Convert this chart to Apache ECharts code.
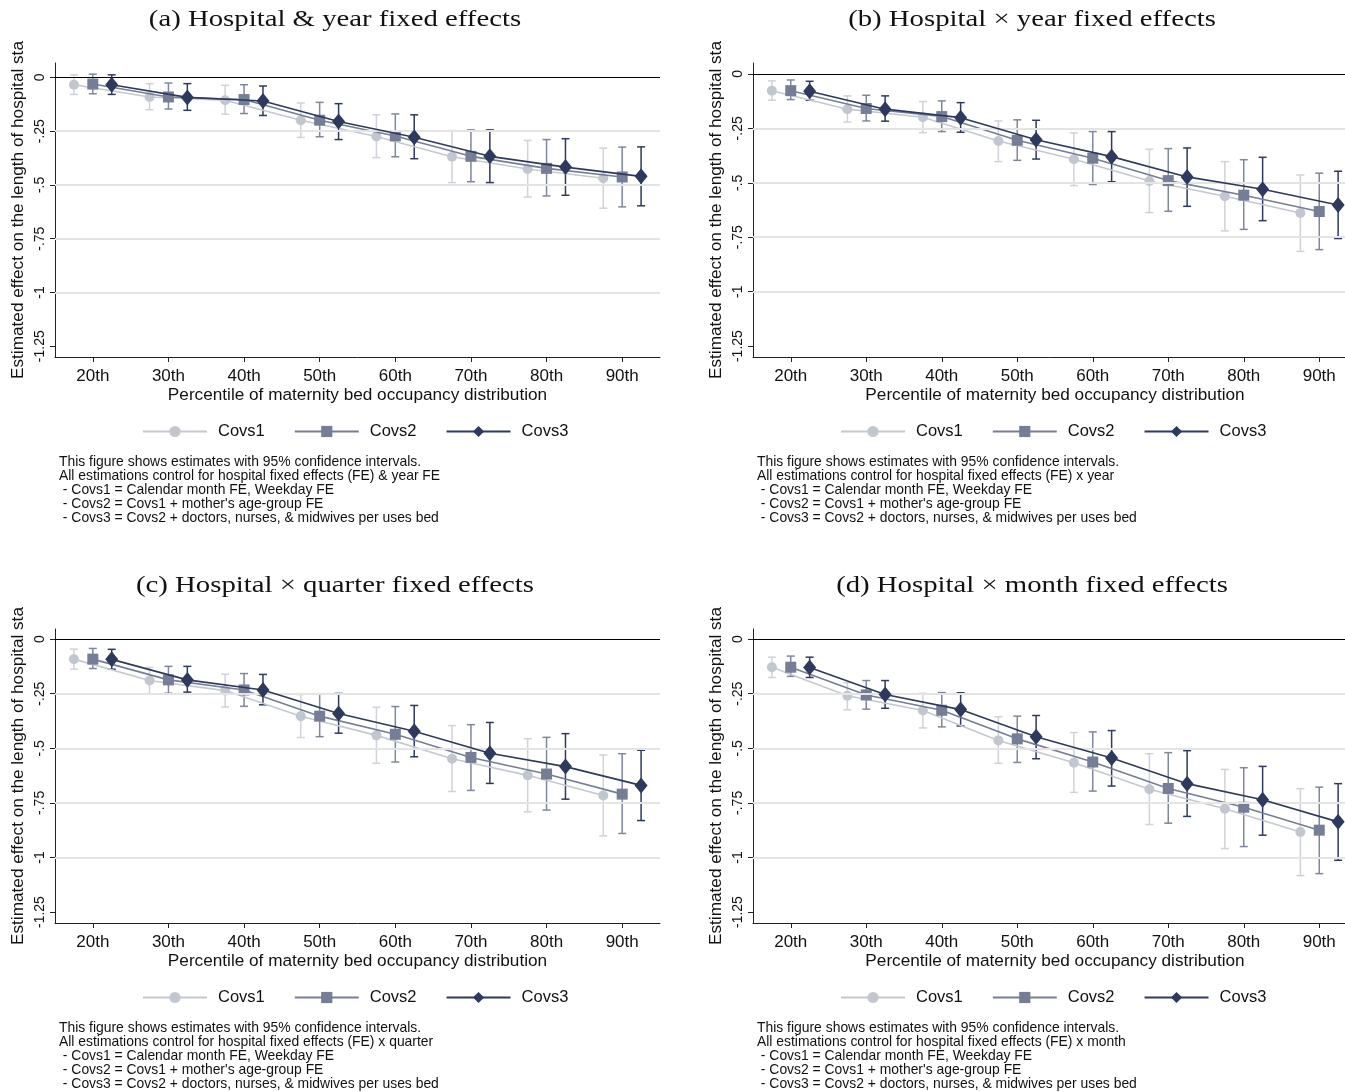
<!DOCTYPE html>
<html>
<head>
<meta charset="utf-8">
<script src="https://cdn.jsdelivr.net/npm/echarts@6/dist/echarts.min.js"></script>
<style>html,body{margin:0;padding:0;background:#fff}#c{width:1345px;height:1092px}</style>
</head>
<body>
<div id="c"></div>
<script>
// ---------- data ----------
const seriesNames = ['Covs1', 'Covs2', 'Covs3'];
const percentiles = [20, 30, 40, 50, 60, 70, 80, 90];
const xTickLabels = ['20th', '30th', '40th', '50th', '60th', '70th', '80th', '90th'];
const yTickValues = [0, -0.25, -0.5, -0.75, -1, -1.25];
const yTickLabels = ['0', '-.25', '-.5', '-.75', '-1', '-1.25'];
const gridValues = [-0.25, -0.5, -0.75, -1];

const panelTitles = ['(a) Hospital & year fixed effects', '(b) Hospital \u00d7 year fixed effects',
                     '(c) Hospital \u00d7 quarter fixed effects', '(d) Hospital \u00d7 month fixed effects'];
const yTitle = 'Estimated effect on the length of hospital sta';
const xTitle = 'Percentile of maternity bed occupancy distribution';
const notesA = ['This figure shows estimates with 95% confidence intervals.',
  'All estimations control for hospital fixed effects (FE) & year FE',
  ' - Covs1 = Calendar month FE, Weekday FE',
  ' - Covs2 = Covs1 + mother\'s age-group FE',
  ' - Covs3 = Covs2 + doctors, nurses, & midwives per uses bed'];
const notesB = ['This figure shows estimates with 95% confidence intervals.',
  'All estimations control for hospital fixed effects (FE) x year',
  ' - Covs1 = Calendar month FE, Weekday FE',
  ' - Covs2 = Covs1 + mother\'s age-group FE',
  ' - Covs3 = Covs2 + doctors, nurses, & midwives per uses bed'];
const notesC = ['This figure shows estimates with 95% confidence intervals.',
  'All estimations control for hospital fixed effects (FE) x quarter',
  ' - Covs1 = Calendar month FE, Weekday FE',
  ' - Covs2 = Covs1 + mother\'s age-group FE',
  ' - Covs3 = Covs2 + doctors, nurses, & midwives per uses bed'];
const notesD = ['This figure shows estimates with 95% confidence intervals.',
  'All estimations control for hospital fixed effects (FE) x month',
  ' - Covs1 = Calendar month FE, Weekday FE',
  ' - Covs2 = Covs1 + mother\'s age-group FE',
  ' - Covs3 = Covs2 + doctors, nurses, & midwives per uses bed'];

// Panel (a)
const A1   = [-0.034, -0.091, -0.106, -0.199, -0.275, -0.369, -0.426, -0.469];
const A1lo = [-0.079, -0.150, -0.171, -0.279, -0.373, -0.489, -0.556, -0.608];
const A1hi = [ 0.012, -0.029, -0.037, -0.119, -0.174, -0.247, -0.293, -0.329];
const A2   = [-0.031, -0.091, -0.103, -0.199, -0.272, -0.367, -0.423, -0.463];
const A2lo = [-0.076, -0.147, -0.168, -0.276, -0.369, -0.485, -0.551, -0.602];
const A2hi = [ 0.015, -0.026, -0.034, -0.116, -0.170, -0.244, -0.289, -0.324];
const A3   = [-0.034, -0.093, -0.110, -0.205, -0.278, -0.367, -0.417, -0.460];
const A3lo = [-0.079, -0.153, -0.177, -0.289, -0.378, -0.489, -0.548, -0.597];
const A3hi = [ 0.012, -0.029, -0.040, -0.122, -0.174, -0.244, -0.285, -0.323];
// Panel (b)
const B1   = [-0.077, -0.162, -0.199, -0.308, -0.392, -0.492, -0.562, -0.639];
const B1lo = [-0.121, -0.221, -0.270, -0.403, -0.513, -0.637, -0.721, -0.815];
const B1hi = [-0.032, -0.101, -0.127, -0.216, -0.271, -0.346, -0.403, -0.464];
const B2   = [-0.077, -0.159, -0.196, -0.305, -0.387, -0.490, -0.557, -0.632];
const B2lo = [-0.118, -0.216, -0.265, -0.397, -0.508, -0.631, -0.714, -0.807];
const B2hi = [-0.028, -0.098, -0.124, -0.211, -0.265, -0.343, -0.394, -0.456];
const B3   = [-0.080, -0.162, -0.201, -0.302, -0.380, -0.473, -0.530, -0.602];
const B3lo = [-0.121, -0.217, -0.268, -0.391, -0.495, -0.608, -0.674, -0.756];
const B3hi = [-0.034, -0.101, -0.132, -0.213, -0.265, -0.340, -0.383, -0.447];
// Panel (c)
const C1   = [-0.092, -0.190, -0.236, -0.353, -0.441, -0.548, -0.624, -0.716];
const C1lo = [-0.138, -0.252, -0.311, -0.451, -0.569, -0.698, -0.791, -0.901];
const C1hi = [-0.046, -0.130, -0.161, -0.254, -0.312, -0.396, -0.456, -0.531];
const C2   = [-0.092, -0.187, -0.233, -0.353, -0.436, -0.542, -0.618, -0.710];
const C2lo = [-0.135, -0.248, -0.308, -0.447, -0.563, -0.693, -0.783, -0.890];
const C2hi = [-0.043, -0.125, -0.158, -0.252, -0.309, -0.392, -0.450, -0.525];
const C3   = [-0.093, -0.187, -0.233, -0.341, -0.422, -0.523, -0.584, -0.670];
const C3lo = [-0.138, -0.243, -0.301, -0.431, -0.539, -0.661, -0.733, -0.831];
const C3hi = [-0.047, -0.125, -0.162, -0.249, -0.304, -0.382, -0.433, -0.509];
// Panel (d)
const D1   = [-0.129, -0.260, -0.327, -0.464, -0.566, -0.688, -0.777, -0.883];
const D1lo = [-0.176, -0.324, -0.407, -0.569, -0.702, -0.849, -0.959, -1.083];
const D1hi = [-0.083, -0.200, -0.248, -0.356, -0.428, -0.525, -0.597, -0.685];
const D2   = [-0.129, -0.256, -0.326, -0.457, -0.563, -0.684, -0.770, -0.875];
const D2lo = [-0.171, -0.321, -0.402, -0.565, -0.696, -0.843, -0.950, -1.074];
const D2hi = [-0.078, -0.190, -0.245, -0.353, -0.425, -0.520, -0.589, -0.678];
const D3   = [-0.130, -0.254, -0.323, -0.447, -0.545, -0.662, -0.736, -0.837];
const D3lo = [-0.176, -0.317, -0.398, -0.548, -0.673, -0.812, -0.898, -1.013];
const D3hi = [-0.083, -0.190, -0.246, -0.350, -0.419, -0.511, -0.583, -0.662];

// ---------- layout / style ----------
const SANS = 'Liberation Sans';
const SERIF = 'Liberation Serif';
const offsets = [-2.5, 0, 2.5];
const styles = [
  { line: '#c4c8d1', marker: '#c2c6cf', bar: '#cfd2da', symbol: 'circle', size: 10 },
  { line: '#767e96', marker: '#767e96', bar: '#7f879d', symbol: 'rect', size: 11 },
  { line: '#2e3a5c', marker: '#2e3a5c', bar: '#2e3a5c', symbol: 'diamond', size: [13, 16] }
];
const panels = [
  { est: [A1, A2, A3], lo: [A1lo, A2lo, A3lo], hi: [A1hi, A2hi, A3hi], notes: notesA,
    grid: { left: 55, top: 63, width: 605, height: 294 }, ymax: 0.067 },
  { est: [B1, B2, B3], lo: [B1lo, B2lo, B3lo], hi: [B1hi, B2hi, B3hi], notes: notesB,
    grid: { left: 753, top: 63, width: 604, height: 294 }, ymax: 0.05 },
  { est: [C1, C2, C3], lo: [C1lo, C2lo, C3lo], hi: [C1hi, C2hi, C3hi], notes: notesC,
    grid: { left: 55, top: 629, width: 605, height: 294 }, ymax: 0.046 },
  { est: [D1, D2, D3], lo: [D1lo, D2lo, D3lo], hi: [D1hi, D2hi, D3hi], notes: notesD,
    grid: { left: 753, top: 629, width: 604, height: 294 }, ymax: 0.046 }
];

const grids = [], xAxes = [], yAxes = [], series = [], legends = [], graphics = [];

panels.forEach((p, pi) => {
  grids.push(Object.assign({ outerBoundsMode: 'none', containLabel: false }, p.grid));
  xAxes.push({
    type: 'value', gridIndex: pi, min: 15, max: 95,
    name: xTitle, nameLocation: 'middle', nameGap: 30,
    nameTextStyle: { fontFamily: SANS, fontSize: 17.2, color: '#111' },
    axisLine: { show: true, onZero: false, lineStyle: { color: '#222', width: 1 } },
    axisTick: { show: true, length: 5, customValues: percentiles, lineStyle: { color: '#222' } },
    axisLabel: { customValues: percentiles, margin: 11, fontFamily: SANS, fontSize: 17, color: '#111',
      formatter: v => xTickLabels[percentiles.indexOf(v)] },
    splitLine: { show: false }
  });
  yAxes.push({
    type: 'value', gridIndex: pi, min: -1.3, max: p.ymax,
    name: yTitle, nameLocation: 'middle', nameGap: 28,
    nameTextStyle: { fontFamily: SANS, fontSize: 17.2, color: '#111' },
    axisLine: { show: true, onZero: false, lineStyle: { color: '#222', width: 1 } },
    axisTick: { show: true, length: 5, customValues: yTickValues, lineStyle: { color: '#222' } },
    axisLabel: { customValues: yTickValues, rotate: 90, margin: 8, fontFamily: SANS, fontSize: 14, color: '#111',
      formatter: v => { const i = yTickValues.findIndex(t => Math.abs(t - v) < 1e-9); return i >= 0 ? yTickLabels[i] : ''; } },
    splitLine: { show: false }
  });

  for (let s = 0; s < 3; s++) {
    const st = styles[s];
    const barData = percentiles.map((x, i) => [x + offsets[s], p.lo[s][i], p.hi[s][i]]);
    const errSeries = {
      type: 'custom', name: seriesNames[s] + '_ci', xAxisIndex: pi, yAxisIndex: pi, z: 2,
      silent: true, data: barData, encode: { x: 0, y: [1, 2] },
      renderItem: (params, api) => {
        const x = api.value(0);
        const top = api.coord([x, api.value(2)]);
        const bot = api.coord([x, api.value(1)]);
        const w = 4;
        const ls = { stroke: st.bar, lineWidth: 1.5 };
        return { type: 'group', children: [
          { type: 'line', shape: { x1: top[0], y1: top[1], x2: bot[0], y2: bot[1] }, style: ls },
          { type: 'line', shape: { x1: top[0] - w, y1: top[1], x2: top[0] + w, y2: top[1] }, style: ls },
          { type: 'line', shape: { x1: bot[0] - w, y1: bot[1], x2: bot[0] + w, y2: bot[1] }, style: ls }
        ] };
      }
    };
    if (s === 0) {
      errSeries.markLine = {
        silent: true, symbol: 'none', animation: false, label: { show: false },
        data: gridValues.map(v => ({ yAxis: v, lineStyle: { color: '#e4e4e4', width: 2, type: 'solid' } }))
          .concat([{ yAxis: 0, lineStyle: { color: '#000', width: 1.2, type: 'solid' } }])
      };
    }
    series.push(errSeries);
    series.push({
      type: 'line', name: seriesNames[s], xAxisIndex: pi, yAxisIndex: pi, z: 3 + s,
      data: percentiles.map((x, i) => [x + offsets[s], p.est[s][i]]),
      symbol: st.symbol, symbolSize: st.size, showSymbol: true,
      lineStyle: { color: st.line, width: 1.6 },
      itemStyle: { color: st.marker, borderWidth: 0 }
    });
  }

  const cx = p.grid.left;
  legends.push({
    data: seriesNames, left: cx + 82, top: p.grid.top + 355, orient: 'horizontal',
    itemWidth: 64, itemHeight: 14, itemGap: 29, selectedMode: false,
    textStyle: { fontFamily: SANS, fontSize: 16.5, color: '#111', padding: [0, 0, 0, 6] }
  });

  graphics.push({
    type: 'text', left: cx + 4, top: p.grid.top + 392,
    style: { text: p.notes.join('\n'), fontFamily: SANS, fontSize: 13.9, lineHeight: 14, fill: '#111' }
  });
});

const titlePos = [[335, 20], [1032, 20], [335, 586], [1032, 586]];
panelTitles.forEach((t, i) => {
  graphics.push({
    type: 'text', x: titlePos[i][0], y: titlePos[i][1], scaleX: 1.25, scaleY: 1,
    style: { text: t, fontFamily: SERIF, fontSize: 23, fill: '#111', align: 'center', verticalAlign: 'middle' }
  });
});

const chart = echarts.init(document.getElementById('c'), null, { renderer: 'canvas' });
chart.setOption({
  animation: false,
  backgroundColor: '#fff',
  grid: grids, xAxis: xAxes, yAxis: yAxes, series: series,
  legend: legends, graphic: graphics
});
</script>
</body>
</html>
